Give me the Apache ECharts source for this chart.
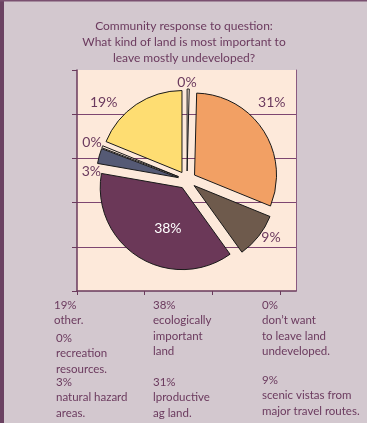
<!DOCTYPE html>
<html><head><meta charset="utf-8">
<script src="https://cdn.jsdelivr.net/npm/echarts@6/dist/echarts.min.js"></script>
<style>html,body{margin:0;padding:0;background:#d3c8cf}#c{width:367px;height:423px}</style>
</head><body><div id="c"></div>
<script>
// ---- data ----
const categories = ["don’t want to leave land undeveloped", "productive ag land", "scenic vistas from major travel routes", "ecologically important land", "natural hazard areas", "recreation resources", "other"];
const values = [0, 31, 9, 38, 3, 0, 19];
const yTickValues = [0, 1, 2, 3, 4, 5];
const xTickValues = [0, 1, 2, 3];
const titleLines = ["Community response to question:", "What kind of land is most important to", "leave mostly undeveloped?"];
const note1 = ["19%", "other."];
const note2 = ["0%", "recreation", "resources."];
const note3 = ["3%", "natural hazard", "areas."];
const note4 = ["38%", "ecologically", "important", "land"];
const note5 = ["31%", "lproductive", "ag land."];
const note6 = ["0%", "don’t want", "to leave land", "undeveloped."];
const note7 = ["9%", "scenic vistas from", "major travel routes."];

// ---- styles / layout ----
const sliceColors = ["#fde9da", "#f2a064", "#6e5a4c", "#6b3858", "#555a75", "#fde9da", "#fedd72"];
const labelColors = ["#6b3a5e", "#6b3a5e", "#6b3a5e", "#ffffff", "#6b3a5e", "#6b3a5e", "#6b3a5e"];
const labelPolar = [[0, 98], [47.5, 115], [124.6, 102], [201.6, 52], [275, 96], [291.3, 102], [313, 114]];
const pieCenter = [187, 180];
const notes = [note1, note2, note3, note4, note5, note6, note7];
const noteAnchors = [[54, 305], [56, 338], [56, 382], [153, 305], [153, 382], [262, 305], [262, 380]];
const textColor = "#6b3a5e";
const axisColor = "#6a3a5c";
const font = "Lato";

const chart = echarts.init(document.getElementById('c'), null, {renderer: 'canvas'});
const noteGraphics = notes.map((lines, i) => ({
  type: 'text',
  x: noteAnchors[i][0],
  y: noteAnchors[i][1] - 7.5,
  style: {
    text: lines.join('\n'),
    fill: textColor,
    font: '11.5px ' + font,
    lineHeight: 15.5,
    textVerticalAlign: 'top'
  },
  silent: true
}));
const sliceLabelGraphics = values.map((v, i) => {
  const a = labelPolar[i][0] * Math.PI / 180;
  const d = labelPolar[i][1];
  return {
    type: 'text',
    x: pieCenter[0] + d * Math.sin(a),
    y: pieCenter[1] - d * Math.cos(a),
    z: 10,
    style: {
      text: v + '%',
      fill: labelColors[i],
      font: '14px ' + font,
      textAlign: 'center',
      textVerticalAlign: 'middle'
    },
    silent: true
  };
});

chart.setOption({
  animation: false,
  backgroundColor: '#d3c8cf',
  title: {
    text: titleLines.join('\n'),
    left: 179,
    top: 13,
    textAlign: 'center',
    textStyle: {color: textColor, fontFamily: font, fontSize: 12, fontWeight: 'normal', lineHeight: 16}
  },
  graphic: [
    {type: 'rect', shape: {x: 0, y: 0, width: 4, height: 423}, style: {fill: '#6b4262'}, silent: true},
    {type: 'rect', shape: {x: 0, y: 0, width: 367, height: 1.5}, style: {fill: '#7a5070'}, silent: true}
  ].concat(noteGraphics, sliceLabelGraphics),
  grid: {left: 77, right: 71, top: 70, bottom: 132, show: true, backgroundColor: '#fde9da', borderWidth: 0, outerBoundsMode: 'none'},
  xAxis: {
    type: 'value', min: 0, max: 3.235, interval: 1,
    axisLine: {show: true, lineStyle: {color: axisColor, width: 1.5}},
    axisTick: {show: true, length: 4, customValues: xTickValues, lineStyle: {color: axisColor, width: 1}},
    axisLabel: {show: false},
    splitLine: {show: false}
  },
  yAxis: [{
    type: 'value', min: 0, max: 5, interval: 1,
    axisLine: {show: true, lineStyle: {color: axisColor, width: 1.5}},
    axisTick: {show: true, length: 5, customValues: yTickValues, lineStyle: {color: axisColor, width: 1}},
    axisLabel: {show: false},
    splitLine: {show: true, showMinLine: false, showMaxLine: false, lineStyle: {color: '#7d4670', width: 1}}
  }, {
    type: 'value', min: 0, max: 5, position: 'right',
    axisLine: {show: true, lineStyle: {color: '#8a5a80', width: 1}},
    axisTick: {show: false}, axisLabel: {show: false}, splitLine: {show: false}
  }],
  series: [{
    type: 'pie',
    center: pieCenter,
    radius: 82,
    startAngle: 90,
    clockwise: true,
    minAngle: 1.5,
    avoidLabelOverlap: false,
    selectedMode: 'multiple',
    selectedOffset: 9,
    emphasis: {disabled: true},
    itemStyle: {borderColor: '#1a1a1a', borderWidth: 1},
    label: {show: false},
    labelLine: {show: false},
    data: categories.map((name, i) => ({
      name: name, value: values[i], selected: true,
      itemStyle: {color: sliceColors[i]}
    }))
  }]
});
</script>
</body></html>
